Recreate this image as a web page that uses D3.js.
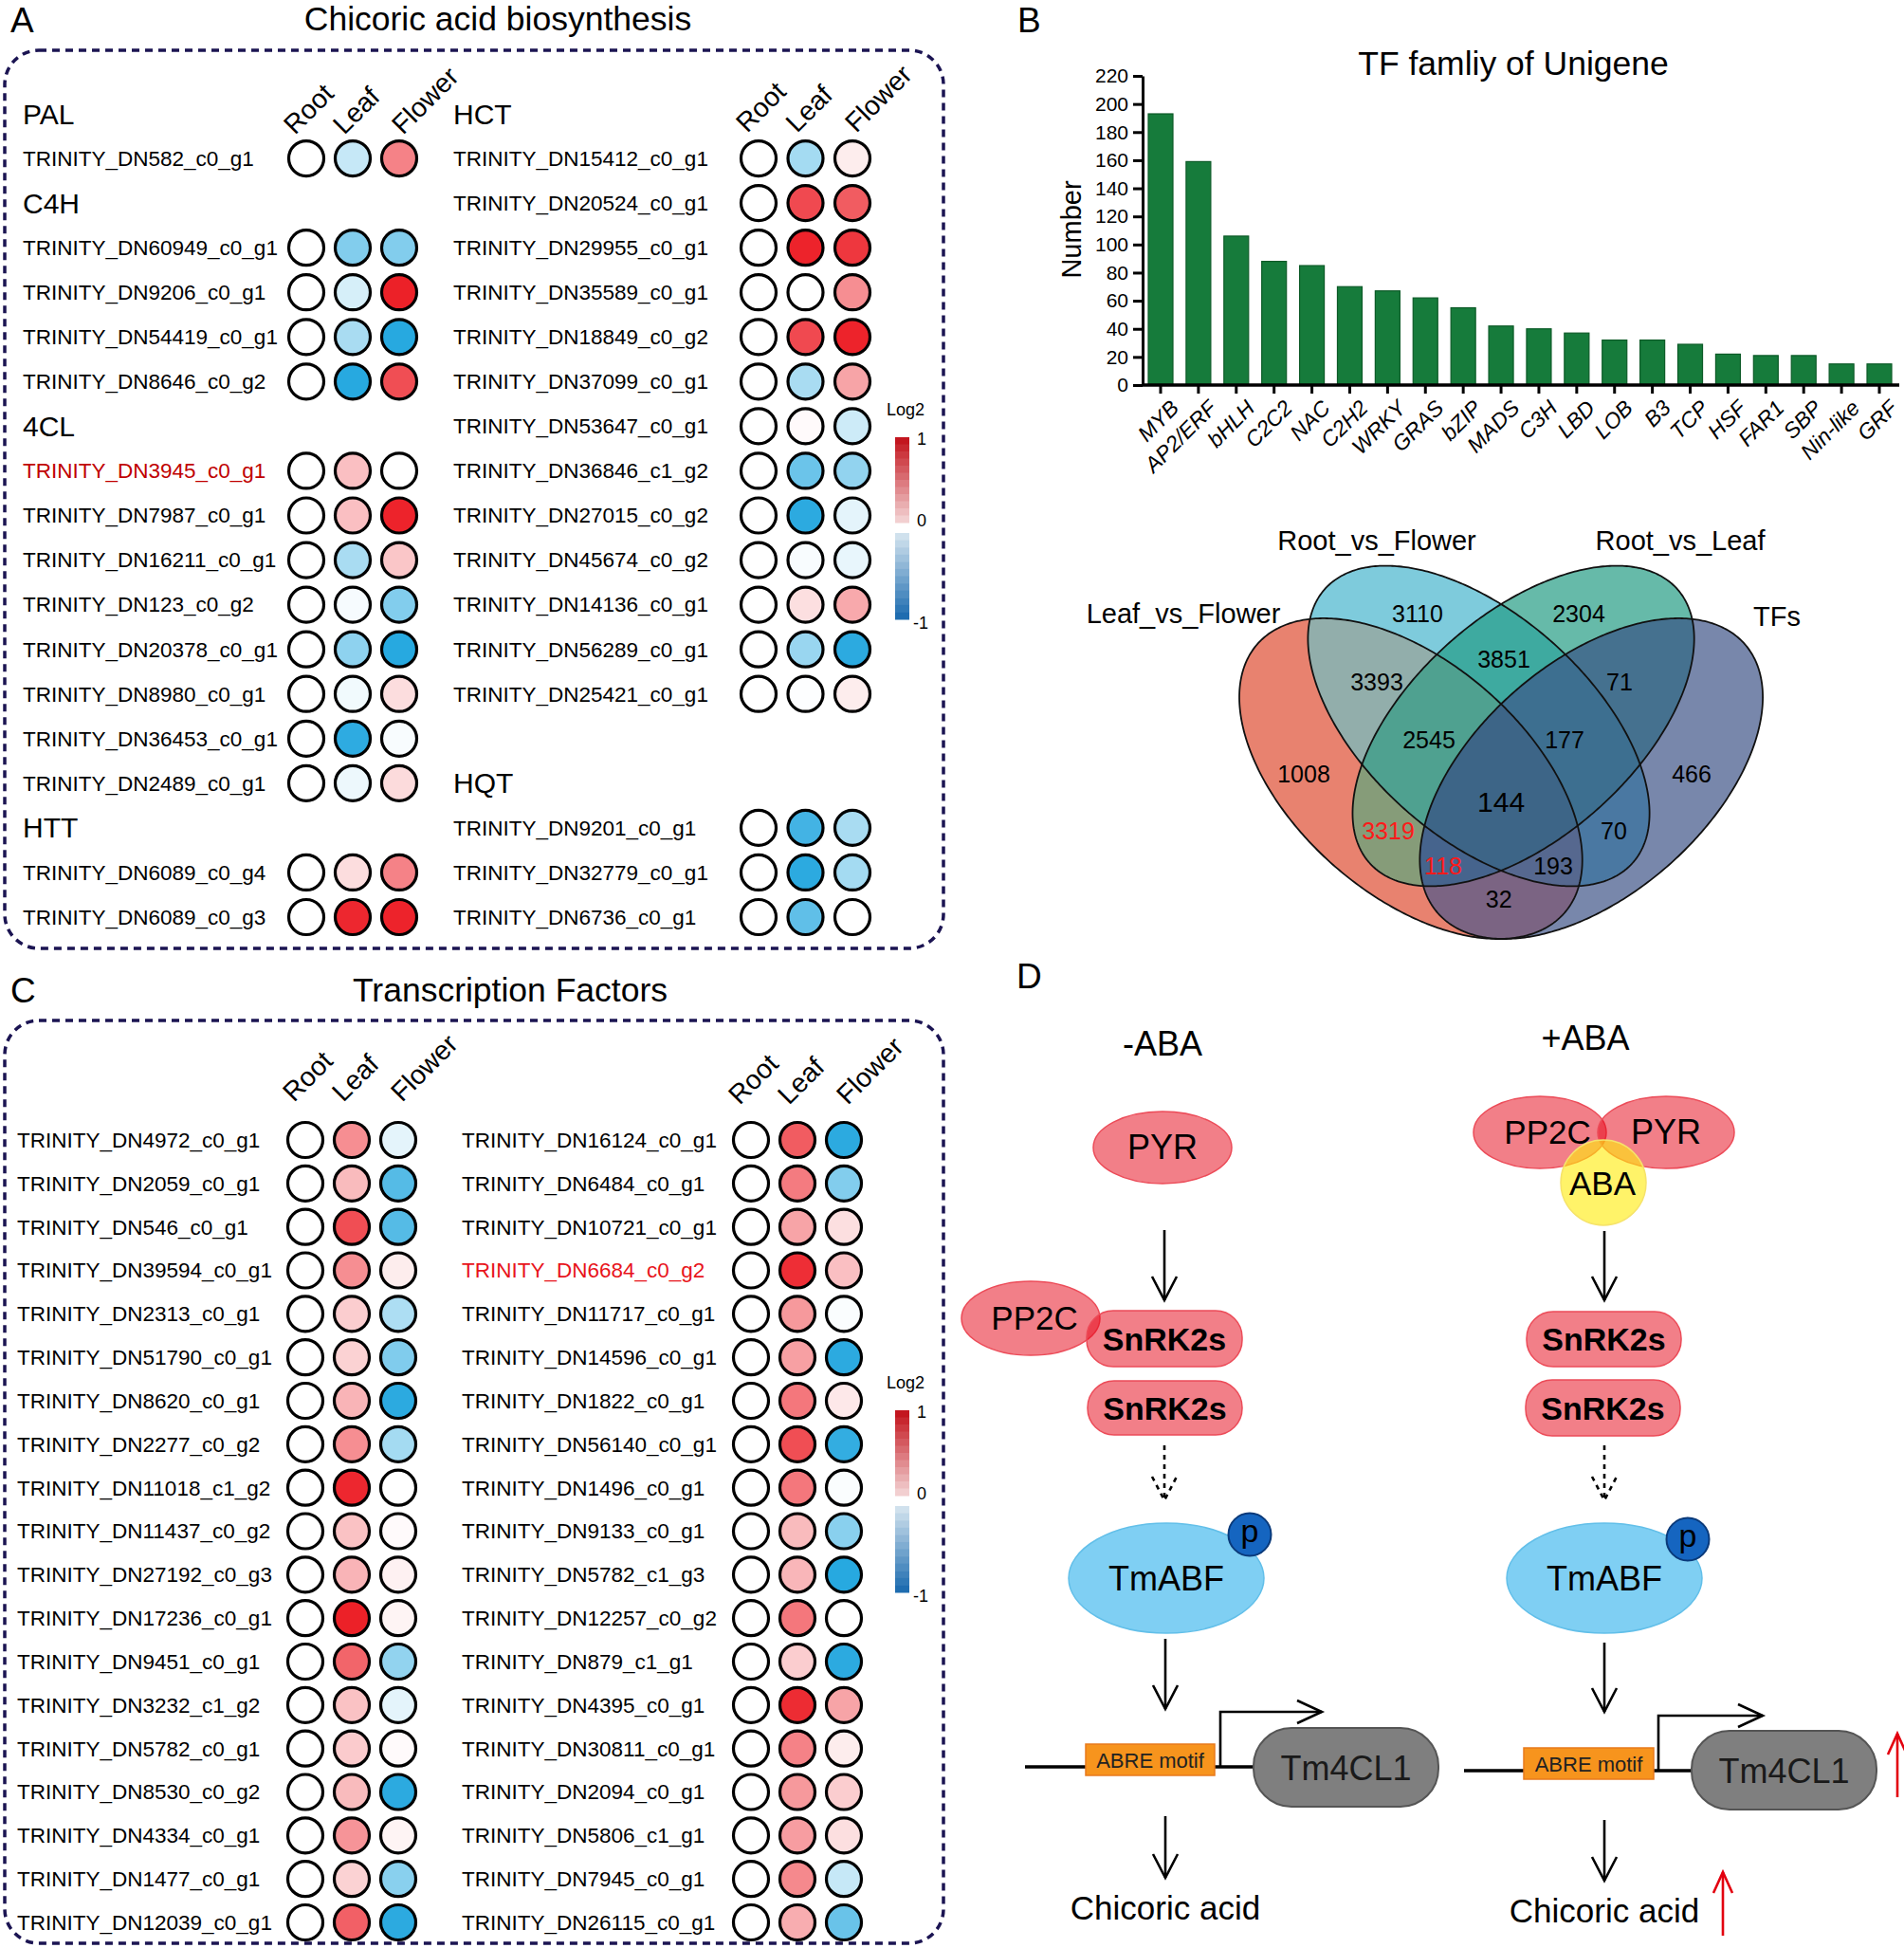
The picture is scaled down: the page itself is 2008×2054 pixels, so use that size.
<!DOCTYPE html>
<meta charset="utf-8">
<head>
    <style>
        body {margin: 0; background: #fff;}
        text {font-family: "Liberation Sans", Arial, sans-serif; fill: #000;}
        .axis path, .axis line {stroke: #000; stroke-width: 3;}
    </style>
    <script src="https://d3js.org/d3.v7.min.js"></script>
</head>
<body>
<script>

    // ---------- data ----------
    var tissues = ["Root", "Leaf", "Flower"];
    var groups = ["PAL", "C4H", "4CL", "HTT", "HCT", "HQT"];

    // panel A, left column (group rows have null values)
    var aLeftNames = ["PAL", "TRINITY_DN582_c0_g1", "C4H", "TRINITY_DN60949_c0_g1", "TRINITY_DN9206_c0_g1",
        "TRINITY_DN54419_c0_g1", "TRINITY_DN8646_c0_g2", "4CL", "TRINITY_DN3945_c0_g1", "TRINITY_DN7987_c0_g1",
        "TRINITY_DN16211_c0_g1", "TRINITY_DN123_c0_g2", "TRINITY_DN20378_c0_g1", "TRINITY_DN8980_c0_g1",
        "TRINITY_DN36453_c0_g1", "TRINITY_DN2489_c0_g1", "HTT", "TRINITY_DN6089_c0_g4", "TRINITY_DN6089_c0_g3"];
    var aLeftLeaf = [null, -0.25, null, -0.55, -0.18, -0.38, -0.95, null, 0.28, 0.28,
        -0.38, -0.04, -0.5, -0.06, -0.92, -0.08, null, 0.15, 0.95];
    var aLeftFlower = [null, 0.55, null, -0.55, 0.98, -0.95, 0.78, null, 0, 0.97,
        0.25, -0.55, -0.95, 0.15, -0.03, 0.16, null, 0.55, 0.97];

    // panel A, right column
    var aRightNames = ["HCT", "TRINITY_DN15412_c0_g1", "TRINITY_DN20524_c0_g1", "TRINITY_DN29955_c0_g1",
        "TRINITY_DN35589_c0_g1", "TRINITY_DN18849_c0_g2", "TRINITY_DN37099_c0_g1", "TRINITY_DN53647_c0_g1",
        "TRINITY_DN36846_c1_g2", "TRINITY_DN27015_c0_g2", "TRINITY_DN45674_c0_g2", "TRINITY_DN14136_c0_g1",
        "TRINITY_DN56289_c0_g1", "TRINITY_DN25421_c0_g1", "", "HQT", "TRINITY_DN9201_c0_g1",
        "TRINITY_DN32779_c0_g1", "TRINITY_DN6736_c0_g1"];
    var aRightLeaf = [null, -0.4, 0.8, 0.97, 0, 0.8, -0.38, 0.02, -0.65, -0.93, -0.03, 0.14,
        -0.45, -0.01, null, null, -0.83, -0.93, -0.7];
    var aRightFlower = [null, 0.08, 0.72, 0.88, 0.5, 0.97, 0.4, -0.22, -0.48, -0.12, -0.1, 0.38,
        -0.93, 0.08, null, null, -0.38, -0.4, 0];

    // panel C, transcription factors
    var cLeftNames = ["TRINITY_DN4972_c0_g1", "TRINITY_DN2059_c0_g1", "TRINITY_DN546_c0_g1", "TRINITY_DN39594_c0_g1",
        "TRINITY_DN2313_c0_g1", "TRINITY_DN51790_c0_g1", "TRINITY_DN8620_c0_g1", "TRINITY_DN2277_c0_g2",
        "TRINITY_DN11018_c1_g2", "TRINITY_DN11437_c0_g2", "TRINITY_DN27192_c0_g3", "TRINITY_DN17236_c0_g1",
        "TRINITY_DN9451_c0_g1", "TRINITY_DN3232_c1_g2", "TRINITY_DN5782_c0_g1", "TRINITY_DN8530_c0_g2",
        "TRINITY_DN4334_c0_g1", "TRINITY_DN1477_c0_g1", "TRINITY_DN12039_c0_g1"];
    var cLeftLeaf = [0.5, 0.3, 0.78, 0.5, 0.22, 0.2, 0.33, 0.5, 0.95, 0.27, 0.33, 0.98, 0.68, 0.27, 0.23, 0.3, 0.47, 0.2, 0.7];
    var cLeftFlower = [-0.12, -0.75, -0.75, 0.08, -0.36, -0.56, -0.93, -0.4, 0, 0.02, 0.06, 0.05, -0.48, -0.12, 0.02, -0.93, 0.05, -0.52, -0.93];

    var cRightNames = ["TRINITY_DN16124_c0_g1", "TRINITY_DN6484_c0_g1", "TRINITY_DN10721_c0_g1", "TRINITY_DN6684_c0_g2",
        "TRINITY_DN11717_c0_g1", "TRINITY_DN14596_c0_g1", "TRINITY_DN1822_c0_g1", "TRINITY_DN56140_c0_g1",
        "TRINITY_DN1496_c0_g1", "TRINITY_DN9133_c0_g1", "TRINITY_DN5782_c1_g3", "TRINITY_DN12257_c0_g2",
        "TRINITY_DN879_c1_g1", "TRINITY_DN4395_c0_g1", "TRINITY_DN30811_c0_g1", "TRINITY_DN2094_c0_g1",
        "TRINITY_DN5806_c1_g1", "TRINITY_DN7945_c0_g1", "TRINITY_DN26115_c0_g1"];
    var cRightLeaf = [0.72, 0.58, 0.4, 0.92, 0.45, 0.42, 0.6, 0.78, 0.6, 0.3, 0.32, 0.6, 0.22, 0.93, 0.55, 0.45, 0.43, 0.52, 0.36];
    var cRightFlower = [-0.93, -0.55, 0.14, 0.28, -0.02, -0.93, 0.1, -0.9, -0.02, -0.52, -0.95, 0, -0.93, 0.4, 0.08, 0.22, 0.14, -0.25, -0.66];

    var highlighted = {"TRINITY_DN3945_c0_g1": "#c00000", "TRINITY_DN6684_c0_g2": "#e8141b"};

    // panel B, bar chart
    var tfFamilies = ["MYB", "AP2/ERF", "bHLH", "C2C2", "NAC", "C2H2", "WRKY", "GRAS", "bZIP", "MADS",
        "C3H", "LBD", "LOB", "B3", "TCP", "HSF", "FAR1", "SBP", "Nin-like", "GRF"];
    var tfCounts = [193, 159, 106, 88, 85, 70, 67, 62, 55, 42, 40, 37, 32, 32, 29, 22, 21, 21, 15, 15];
    var yTicks = d3.range(0, 221, 20);

    // panel B, venn (sets: 0 Leaf_vs_Flower, 1 Root_vs_Flower, 2 Root_vs_Leaf, 3 TFs)
    var vennSets = ["Leaf_vs_Flower", "Root_vs_Flower", "Root_vs_Leaf", "TFs"];
    var vennCounts = [3110, 2304, 3851, 3393, 71, 2545, 177, 1008, 466, 144, 3319, 70, 118, 193, 32];
    var vennMembers = [[1], [2], [1, 2], [0, 1], [2, 3], [0, 1, 2], [1, 2, 3], [0], [3], [0, 1, 2, 3],
        [0, 2], [1, 3], [0, 2, 3], [0, 1, 3], [0, 3]];
    var vennRed = [3319, 118];

    // ---------- layout ----------
    var W = 2008, H = 2054;
    var svg = d3.select("body").append("svg")
        .attr("width", W)
        .attr("height", H);
    svg.append("rect").attr("width", W).attr("height", H).attr("fill", "#fff");
    var defs = svg.append("defs");

    var heat = d3.scaleLinear().domain([-1, 0, 1]).range(["#1ca4de", "#ffffff", "#ec1c24"]);
    var headerShift = [-12, -9, 4];

    function letter(t, x, y) {
        svg.append("text").attr("x", x).attr("y", y).attr("font-size", 37).text(t);
    }
    function title(t, x, y) {
        svg.append("text").attr("x", x).attr("y", y).attr("font-size", 35.5)
            .attr("text-anchor", "middle").text(t);
    }
    function dashedBox(y0, y1) {
        svg.append("rect")
            .attr("x", 5).attr("y", y0)
            .attr("width", 990).attr("height", y1 - y0)
            .attr("rx", 36)
            .attr("fill", "none")
            .attr("stroke", "#1b1452")
            .attr("stroke-width", 3.5)
            .attr("stroke-dasharray", "8,6");
    }

    function heatColumn(names, leaf, flower, rows, labelX, cx0, cx2, headerY) {
        var g = svg.append("g");
        var cx = d3.scalePoint().domain(tissues).range([cx0, cx2]);

        g.selectAll(".hdr").data(tissues).join("text")
            .attr("class", "hdr")
            .attr("transform", function(d, i) {return "translate(" + (cx(d) + headerShift[i]) + "," + headerY + ") rotate(-45)"})
            .attr("font-size", 28.5)
            .text(function(d) {return d});

        names.forEach(function(n, i) {
            if (!n) return;
            var y = rows(i);
            if (groups.indexOf(n) >= 0) {
                g.append("text").attr("x", labelX).attr("y", y).attr("dy", ".35em")
                    .attr("font-size", 30).text(n);
                return;
            }
            g.append("text").attr("x", labelX).attr("y", y).attr("dy", ".35em")
                .attr("font-size", 22.5)
                .style("fill", highlighted[n] || "#000")
                .text(n);
            var vals = [0, leaf[i], flower[i]];   // root is the reference tissue
            g.selectAll(null).data(vals).join("circle")
                .attr("cx", function(d, j) {return cx(tissues[j])})
                .attr("cy", y)
                .attr("r", 18.5)
                .attr("fill", function(d) {return heat(d)})
                .attr("stroke", "#000")
                .attr("stroke-width", 3.2);
        });
    }

    function colorBar(top) {
        var g = svg.append("g");
        var x0 = 944, w = 15;
        var red = d3.interpolateRgb("#f6e0e0", "#c3161f");
        var blue = d3.interpolateRgb("#e0ecf3", "#1f6db0");
        var yr = d3.scaleLinear().domain([1, 0]).range([top, top + 90]);
        var yb = d3.scaleLinear().domain([0, -1]).range([top + 101, top + 192]);
        var steps = d3.range(12);
        g.selectAll(".r").data(steps).join("rect")
            .attr("x", x0).attr("width", w)
            .attr("y", function(d) {return yr(1 - d / 12)})
            .attr("height", yr(0) - yr(1 / 12) + 0.5)
            .attr("fill", function(d) {return red(1 - d / 12)});
        g.selectAll(".b").data(steps).join("rect")
            .attr("x", x0).attr("width", w)
            .attr("y", function(d) {return yb(-d / 12)})
            .attr("height", yb(-1 / 12) - yb(0) + 0.5)
            .attr("fill", function(d) {return blue((d + 1) / 12)});
        g.append("text").attr("x", 955).attr("y", top - 23).attr("text-anchor", "middle")
            .attr("font-size", 18).text("Log2");
        g.append("text").attr("x", 967).attr("y", top + 2).attr("dy", ".35em").attr("font-size", 18).text("1");
        g.append("text").attr("x", 967).attr("y", top + 88).attr("dy", ".35em").attr("font-size", 18).text("0");
        g.append("text").attr("x", 963).attr("y", top + 196).attr("dy", ".35em").attr("font-size", 18).text("-1");
    }

    // ---------- panel A ----------
    letter("A", 11, 34);
    title("Chicoric acid biosynthesis", 525, 32);
    dashedBox(53, 1000);
    var rowsA = d3.scalePoint().domain(d3.range(19)).range([120, 967]);
    heatColumn(aLeftNames, aLeftLeaf, aLeftFlower, rowsA, 24, 323, 421, 143);
    heatColumn(aRightNames, aRightLeaf, aRightFlower, rowsA, 478, 800, 899, 141);
    colorBar(461);

    // ---------- panel C ----------
    letter("C", 11, 1057);
    title("Transcription Factors", 538, 1056);
    dashedBox(1076, 2049);
    var rowsC = d3.scalePoint().domain(d3.range(19)).range([1202, 2027]);
    heatColumn(cLeftNames, cLeftLeaf, cLeftFlower, rowsC, 18, 322, 420, 1163);
    heatColumn(cRightNames, cRightLeaf, cRightFlower, rowsC, 487, 792, 890, 1166);
    colorBar(1487);

    // ---------- panel B: bar chart ----------
    letter("B", 1073, 34);
    var bx = d3.scalePoint().domain(tfFamilies).range([1224, 1982]);
    var by = d3.scaleLinear().domain([0, 220]).range([406, 80]);
    var bars = svg.append("g");

    bars.selectAll("rect").data(tfCounts).join("rect")
        .attr("x", function(d, i) {return bx(tfFamilies[i]) - 13})
        .attr("y", function(d) {return by(d)})
        .attr("width", 26)
        .attr("height", function(d) {return by(0) - by(d)})
        .attr("fill", "#167b3b")
        .attr("stroke", "#0c5a27")
        .attr("stroke-width", 1.2);

    bars.append("g").attr("class", "axis")
        .attr("transform", "translate(1205,0)")
        .call(d3.axisLeft(by).tickValues(yTicks).tickSize(10).tickSizeOuter(0).tickPadding(5))
        .call(function(g) {g.selectAll("text").style("font-size", "21px")});

    bars.append("line").attr("x1", 1204).attr("x2", 2003)
        .attr("y1", by(0)).attr("y2", by(0))
        .attr("stroke", "#000").attr("stroke-width", 3.5);

    bars.selectAll(".xt").data(tfFamilies).join("line")
        .attr("class", "xt")
        .attr("x1", function(d) {return bx(d)}).attr("x2", function(d) {return bx(d)})
        .attr("y1", by(0)).attr("y2", by(0) + 9)
        .attr("stroke", "#000").attr("stroke-width", 3);

    bars.selectAll(".xl").data(tfFamilies).join("text")
        .attr("class", "xl")
        .attr("transform", function(d) {return "translate(" + (bx(d) + 15) + "," + (by(0) + 20) + ") rotate(-45)"})
        .attr("text-anchor", "end")
        .attr("dy", ".35em")
        .attr("font-size", 23)
        .attr("font-style", "italic")
        .text(function(d) {return d});

    bars.append("text")
        .attr("transform", "translate(1140,242) rotate(-90)")
        .attr("text-anchor", "middle")
        .attr("font-size", 29)
        .text("Number");

    bars.append("text").attr("x", 1596).attr("y", 79)
        .attr("text-anchor", "middle").attr("font-size", 35.5)
        .text("TF famliy of Unigene");

    // ---------- panel B: venn ----------
    // unit space mapped to pixels; each ellipse = centre + two semi-axis vectors
    var vx = d3.scaleLinear().domain([0, 1]).range([1265.8, 1900.3]);
    var vy = d3.scaleLinear().domain([0, 1]).range([1099.7, 506.7]);
    var vennShapes = [
        {c: [0.35, 0.47], ax: [-0.2475, 0.2475], bx: [0.1414, 0.1414]},
        {c: [0.4629, 0.5636], ax: [0.2559, -0.2433], bx: [-0.1229, -0.1482]},
        {c: [0.5371, 0.5636], ax: [-0.2559, -0.2433], bx: [0.1229, -0.1482]},
        {c: [0.65, 0.47], ax: [0.2475, 0.2475], bx: [-0.1414, 0.1414]}
    ];
    var vennFill = ["#7ecbdc", "#66baa9", "#3eaaa0", "#92aeab", "#45718f", "#4fa190", "#3d6f90", "#e8826f",
        "#7887ab", "#3d6587", "#869c79", "#4a78a2", "#46648d", "#56688f", "#7b6483"];
    var vennLabelPos = [[-0.028, 0.7465], [0.2935, 0.8764], [0.7979, 0.8764], [0.9586, 0.7415]];
    var vennCountPos = [[0.3612, 0.7634], [0.6292, 0.7634], [0.5047, 0.6825], [0.2935, 0.642], [0.6969, 0.642],
        [0.3802, 0.5391], [0.6055, 0.5391], [0.1721, 0.4784], [0.8167, 0.4784], [0.5, 0.4295],
        [0.3124, 0.3773], [0.6875, 0.3773], [0.4038, 0.315], [0.5866, 0.315], [0.4963, 0.2559]];

    var ellLine = d3.line()
        .x(function(p) {return vx(p[0])})
        .y(function(p) {return vy(p[1])})
        .curve(d3.curveLinearClosed);

    function ellipsePath(s) {
        return ellLine(d3.range(0, 2 * Math.PI, 0.015).map(function(t) {
            var ca = Math.cos(t), sb = Math.sin(t);
            return [s.c[0] + s.ax[0] * ca + s.bx[0] * sb,
                    s.c[1] + s.ax[1] * ca + s.bx[1] * sb];
        }));
    }

    vennShapes.forEach(function(s, i) {
        defs.append("clipPath").attr("id", "vclip" + i)
            .append("path").attr("d", ellipsePath(s));
    });

    var venn = svg.append("g");
    // each region: clipped to its sets, masked out of the other sets
    vennMembers.forEach(function(m, k) {
        var mask = defs.append("mask").attr("id", "vmask" + k)
            .attr("maskUnits", "userSpaceOnUse")
            .attr("x", 0).attr("y", 0).attr("width", W).attr("height", H);
        mask.append("rect").attr("width", W).attr("height", H).attr("fill", "#fff");
        vennShapes.forEach(function(s, i) {
            if (m.indexOf(i) < 0) mask.append("path").attr("d", ellipsePath(s)).attr("fill", "#000");
        });
        var g = venn.append("g").attr("mask", "url(#vmask" + k + ")");
        m.forEach(function(i) {g = g.append("g").attr("clip-path", "url(#vclip" + i + ")")});
        g.append("rect").attr("x", 1200).attr("y", 480).attr("width", 760).attr("height", 600)
            .attr("fill", vennFill[k]);
    });

    venn.selectAll(".ello").data(vennShapes).join("path")
        .attr("class", "ello")
        .attr("d", ellipsePath)
        .attr("fill", "none")
        .attr("stroke", "#111")
        .attr("stroke-width", 1.8);

    venn.selectAll(".setl").data(vennSets).join("text")
        .attr("class", "setl")
        .attr("x", function(d, i) {return vx(vennLabelPos[i][0])})
        .attr("y", function(d, i) {return vy(vennLabelPos[i][1])})
        .attr("text-anchor", "middle")
        .attr("font-size", 29)
        .text(function(d) {return d});

    venn.selectAll(".cnt").data(vennCounts).join("text")
        .attr("class", "cnt")
        .attr("x", function(d, i) {return vx(vennCountPos[i][0])})
        .attr("y", function(d, i) {return vy(vennCountPos[i][1])})
        .attr("dy", ".35em")
        .attr("text-anchor", "middle")
        .attr("font-size", function(d) {return d == 144 ? 30 : 25})
        .style("fill", function(d) {return vennRed.indexOf(d) >= 0 ? "#ff1a1a" : "#000"})
        .text(function(d) {return d});

    // ---------- panel D: model ----------
    letter("D", 1072, 1042);
    var dg = svg.append("g");

    function dText(t, x, y, size, weight) {
        return dg.append("text").attr("x", x).attr("y", y).attr("text-anchor", "middle")
            .attr("font-size", size).attr("font-weight", weight || "normal").text(t);
    }
    function protein(x, y, rx, ry) {
        dg.append("ellipse").attr("cx", x).attr("cy", y).attr("rx", rx).attr("ry", ry)
            .attr("fill", "#e50012").attr("fill-opacity", 0.5)
            .attr("stroke", "#ec4b58").attr("stroke-width", 1.5);
    }
    function kinase(x0, y0, x1, y1) {
        dg.append("rect").attr("x", x0).attr("y", y0).attr("width", x1 - x0).attr("height", y1 - y0)
            .attr("rx", 28)
            .attr("fill", "#e50012").attr("fill-opacity", 0.5)
            .attr("stroke", "#ec4b58").attr("stroke-width", 1.5);
        dText("SnRK2s", (x0 + x1) / 2, (y0 + y1) / 2 + 12, 34, "bold");
    }
    function arrowDown(x, y1, y2, color, dashed) {
        var a = dg.append("g").attr("stroke", color || "#000").attr("stroke-width", 2.6).attr("fill", "none");
        if (dashed) a.attr("stroke-dasharray", "5,5");
        a.append("line").attr("x1", x).attr("x2", x).attr("y1", y1).attr("y2", y2);
        a.append("polyline").attr("points", [[x - 13, y2 - 25], [x, y2], [x + 13, y2 - 25]].join(" "));
    }
    function arrowUp(x, y1, y2) {
        var a = dg.append("g").attr("stroke", "#e3000f").attr("stroke-width", 2.6).attr("fill", "none");
        a.append("line").attr("x1", x).attr("x2", x).attr("y1", y1).attr("y2", y2);
        a.append("polyline").attr("points", [[x - 10, y2 + 22], [x, y2], [x + 10, y2 + 22]].join(" "));
    }
    function tmabf(x, y, px, py) {
        dg.append("ellipse").attr("cx", x).attr("cy", y).attr("rx", 103).attr("ry", 58)
            .attr("fill", "#7fcff3").attr("stroke", "#62bfe9").attr("stroke-width", 1.5);
        dText("TmABF", x, y + 13, 36);
        dg.append("circle").attr("cx", px).attr("cy", py).attr("r", 22.5)
            .attr("fill", "#1565c0").attr("stroke", "#0a3a7a").attr("stroke-width", 2);
        dText("p", px, py + 8, 34);
    }
    function gene(lineX0, lineY, boxX0, boxX1, promX, headX, rectX0, rectX1, rectY0, rectY1) {
        var s = dg.append("g").attr("stroke", "#000").attr("stroke-width", 3.5).attr("fill", "none");
        s.append("line").attr("x1", lineX0).attr("x2", boxX0).attr("y1", lineY).attr("y2", lineY);
        s.append("line").attr("x1", boxX1).attr("x2", rectX0).attr("y1", lineY).attr("y2", lineY);
        dg.append("path")
            .attr("d", "M" + promX + "," + lineY + "V" + (lineY - 58) + "H" + headX)
            .attr("fill", "none").attr("stroke", "#000").attr("stroke-width", 2.6);
        dg.append("polyline")
            .attr("points", [[headX - 26, lineY - 70], [headX, lineY - 58], [headX - 26, lineY - 46]].join(" "))
            .attr("fill", "none").attr("stroke", "#000").attr("stroke-width", 2.6);
        dg.append("rect").attr("x", boxX0).attr("y", lineY - 24).attr("width", boxX1 - boxX0).attr("height", 33)
            .attr("fill", "#f7941d").attr("stroke", "#e87a1c").attr("stroke-width", 1.5);
        dText("ABRE motif", (boxX0 + boxX1) / 2, lineY + 1, 22).style("fill", "#222");
        dg.append("rect").attr("x", rectX0).attr("y", rectY0).attr("width", rectX1 - rectX0).attr("height", rectY1 - rectY0)
            .attr("rx", 40).attr("fill", "#7f7f7f").attr("stroke", "#555").attr("stroke-width", 2);
        dText("Tm4CL1", (rectX0 + rectX1) / 2, (rectY0 + rectY1) / 2 + 13, 36).style("fill", "#1a1a1a");
    }

    // -ABA
    dText("-ABA", 1226, 1113, 36);
    protein(1226, 1210, 73, 38);
    dText("PYR", 1226, 1222, 36);
    arrowDown(1228, 1297, 1371);
    protein(1087, 1390, 73, 39);
    kinase(1146, 1382, 1310, 1441);
    dText("PP2C", 1091, 1402, 35);
    kinase(1147, 1456, 1310, 1513);
    arrowDown(1228, 1524, 1582, "#000", true);
    tmabf(1230, 1664, 1318, 1618);
    arrowDown(1229, 1728, 1802);
    gene(1081, 1863, 1145, 1281, 1287, 1394, 1322, 1517, 1822, 1905);
    arrowDown(1229, 1915, 1980);
    dText("Chicoric acid", 1229, 2024, 35);

    // +ABA
    dText("+ABA", 1672, 1107, 36);
    protein(1624, 1194, 70, 38);
    protein(1757, 1194, 72, 38);
    dg.append("circle").attr("cx", 1691).attr("cy", 1247).attr("r", 45)
        .attr("fill", "#ffeb0d").attr("fill-opacity", 0.62)
        .attr("stroke", "#f6e36a").attr("stroke-width", 1.5);
    dText("PP2C", 1632, 1206, 35);
    dText("PYR", 1757, 1206, 36);
    dText("ABA", 1690, 1260, 35);
    arrowDown(1692, 1298, 1371);
    kinase(1610, 1383, 1773, 1441);
    kinase(1609, 1455, 1772, 1514);
    arrowDown(1692, 1524, 1582, "#000", true);
    tmabf(1692, 1664, 1780, 1623);
    arrowDown(1692, 1732, 1805);
    gene(1544, 1867, 1607, 1744, 1749, 1859, 1784, 1979, 1825, 1908);
    arrowUp(2001, 1895, 1828);
    arrowDown(1692, 1919, 1983);
    dText("Chicoric acid", 1692, 2027, 35);
    arrowUp(1817, 2041, 1974);

</script>
</body>
